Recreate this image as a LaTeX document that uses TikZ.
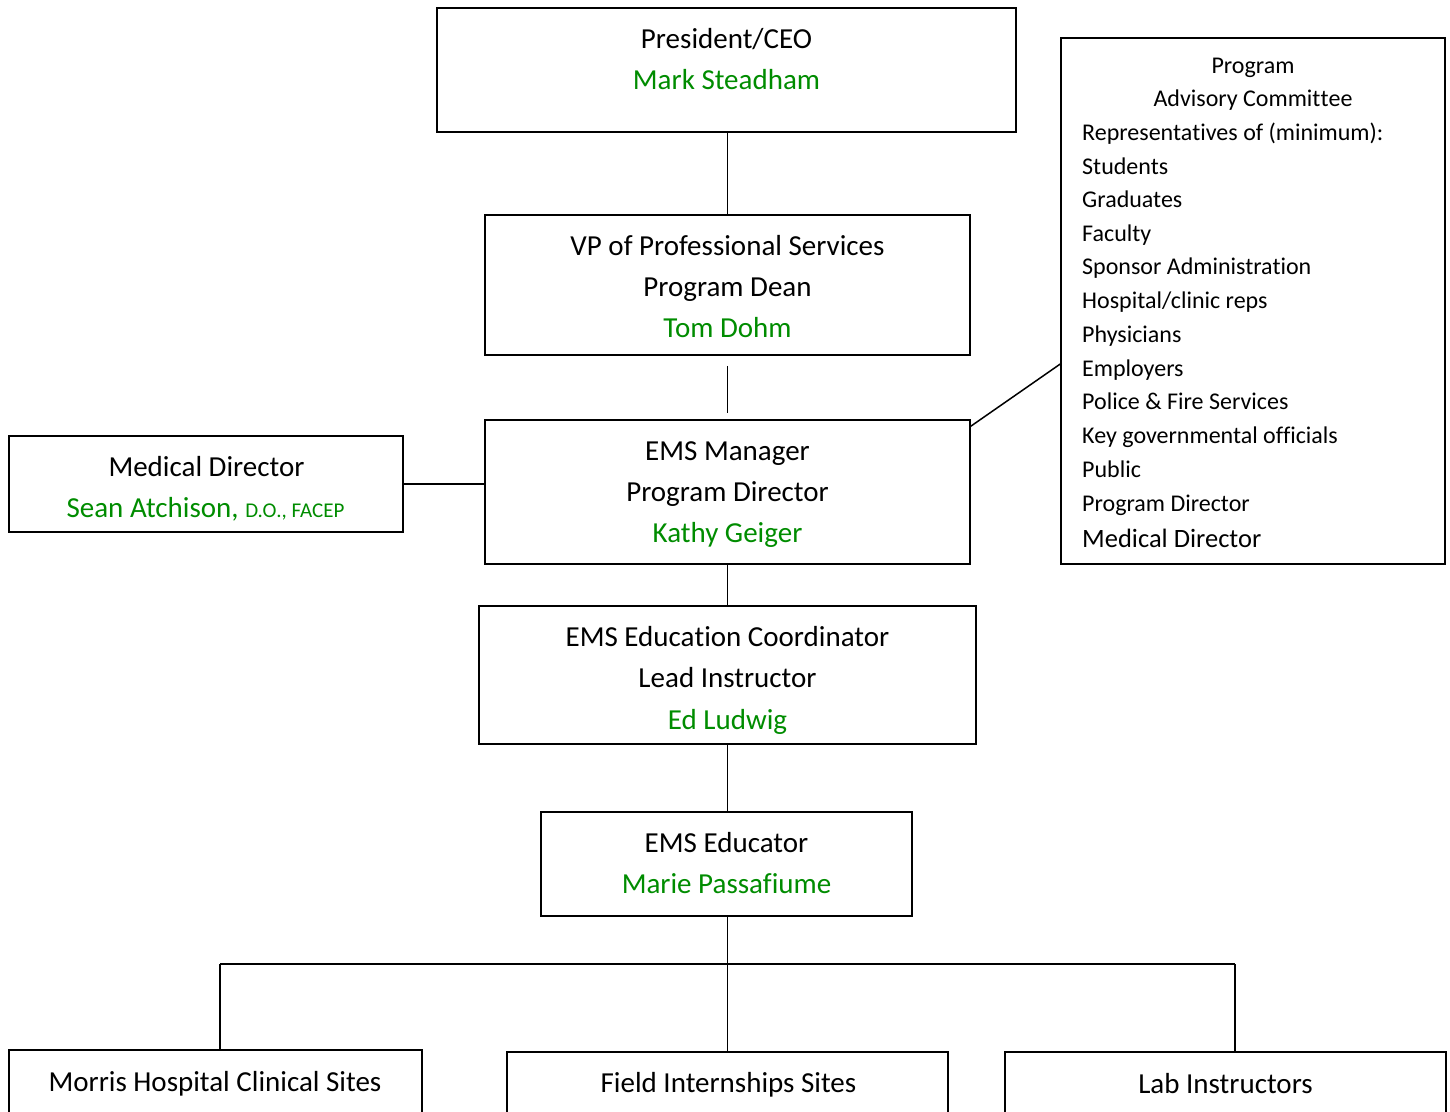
\documentclass[tikz,border=0pt]{standalone}
\usepackage{fontspec}
\setmainfont{Carlito}[RawFeature=-liga]
\newcommand{\nl}{\kern0pt }
\definecolor{grn}{RGB}{0,140,0}
\begin{document}
\begin{tikzpicture}[x=1pt,y=-1pt,
  box/.style={draw, line width=1.5pt, inner sep=0pt, rectangle},
  big/.style={font=\fontsize{29}{35}\selectfont, inner sep=0pt, anchor=base},
  advtxt/.style={font=\fontsize{24}{29}\selectfont, inner sep=0pt},
  link/.style={line width=1.5pt}]
\useasboundingbox (0,0) rectangle (1450,1111);

% President
\node[box, minimum width=579pt, minimum height=124pt] (ceo) at (726.5,70) {};
\node[big] (ceoA) at (726.5,48) {President/CEO};
\node[big, text=grn] (ceoB) at (726.5,89) {Mark Steadham};

% VP
\node[box, minimum width=485pt, minimum height=140pt] (vp) at (727.5,285) {};
\node[big] (vpA) at (727.5,255) {VP of Professional Services};
\node[big] (vpB) at (727.5,296) {Program Dean};
\node[big, text=grn] (vpC) at (727.5,337) {Tom Dohm};

% EMS Manager
\node[box, minimum width=485pt, minimum height=144pt] (mgr) at (727.5,492) {};
\node[big] (mgrA) at (727.5,460) {EMS Manager};
\node[big] (mgrB) at (727.5,501) {Program Director};
\node[big, text=grn] (mgrC) at (727.5,542) {Kathy Geiger};

% Medical Director
\node[box, minimum width=394pt, minimum height=96pt] (med) at (206,484) {};
\node[big] (medA) at (206.5,476) {Medical Director};
\node[big, text=grn] (medB) at (205.5,517) {Sean Atchison, {\fontsize{21}{25}\selectfont D.O., FACEP}};

% Advisory committee
\node[box, minimum width=384pt, minimum height=526pt] (adv) at (1253,301) {};
\node[advtxt, anchor=base] (advT1) at (1253,73) {Program};
\node[advtxt, anchor=base] (advT2) at (1253,106) {Advisory Commit\nl t\nl ee};
\foreach \t/\y [count=\i] in {{Representa\nl tives of (minimum):}/140, {Students}/174, {Graduates}/207, {Faculty}/241,
  {Sponsor Administration}/274, {Hospital/clinic reps}/308, {Physicians}/342, {Employers}/376,
  {Police \& Fire Services}/409, {Key governmental officials}/443, {Public}/477, {Program Director}/511}
  \node[advtxt, anchor=base west] (advL\i) at (1082,\y) {\t};
\node[font=\fontsize{26.5}{31}\selectfont, inner sep=0pt, anchor=base west] (advLast) at (1082,547) {Medical Director};

% EMS Education Coordinator
\node[box, minimum width=497pt, minimum height=138pt] (coord) at (727.5,675) {};
\node[big] (coordA) at (727.5,646) {EMS Educa\nl tion Coordinator};
\node[big] (coordB) at (727.5,687) {Lead Instructor};
\node[big, text=grn] (coordC) at (727.5,729) {Ed Ludwig};

% EMS Educator
\node[box, minimum width=371pt, minimum height=104pt] (edu) at (726.5,864) {};
\node[big] (eduA) at (726.5,852) {EMS Educator};
\node[big, text=grn] (eduB) at (726.5,893) {Marie Passafiume};

% Bottom boxes
\node[box, minimum width=413pt, minimum height=80pt] (morris) at (215.5,1090) {};
\node[big] (morrisT) at (215,1091) {Morris Hospital Clinical Sites};
\node[box, minimum width=441pt, minimum height=78pt] (field) at (727.5,1091) {};
\node[big] (fieldT) at (728.5,1092) {Field Internships Sites};
\node[box, minimum width=441pt, minimum height=78pt] (lab) at (1225.5,1091) {};
\node[big] (labT) at (1225.5,1093) {Lab Instructors};

% Connectors
\draw[link] (vp.north |- ceo.south) -- (vp.north);
\draw[link, shorten <=10pt, shorten >=6pt] (vp.south) -- (mgr.north);
\draw[link] (med.east) -- (med.east -| mgr.west);
\draw[link] ([yshift=-7pt]mgr.north east) -- ([yshift=-63pt]adv.west);
\draw[link] (mgr.south) -- (coord.north);
\draw[link] (coord.south) -- (coord.south |- edu.north);
\coordinate (busL) at (220,964);
\coordinate (busR) at (1235,964);
\draw[link] (field.north |- edu.south) -- (field.north);
\draw[link] (busL) -- (busR);
\draw[link] (busL) -- (busL |- morris.north);
\draw[link] (busR) -- (busR |- lab.north);
\end{tikzpicture}
\end{document}
